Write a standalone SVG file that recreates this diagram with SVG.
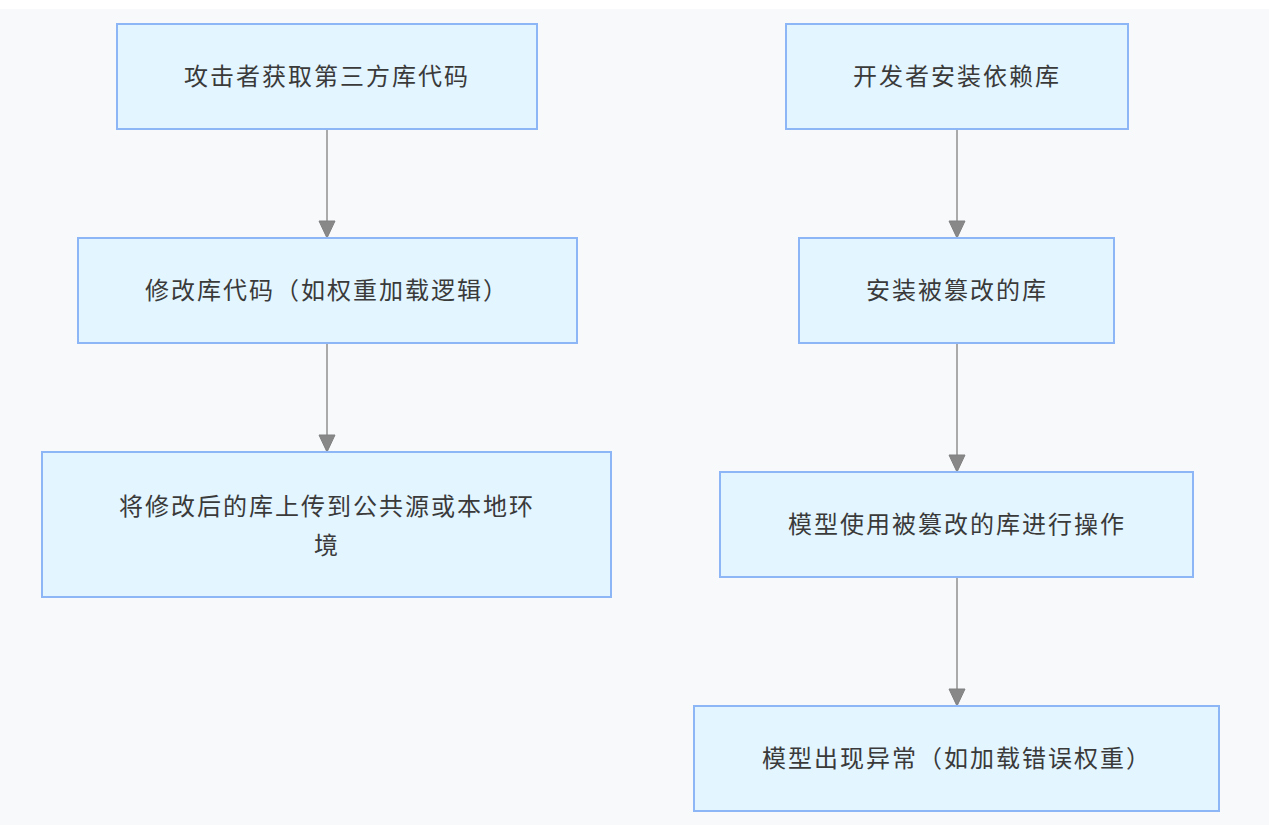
<svg xmlns="http://www.w3.org/2000/svg" width="1269" height="825" viewBox="0 0 1269 825">
<defs>
<style>
.node rect{fill:#e3f5ff;stroke:#8db6f7;stroke-width:2}
.node text{font-family:"Noto Sans CJK SC","Noto Sans",sans-serif;font-size:24px;letter-spacing:2px;fill:#3a3a3a;text-anchor:middle}
.edge{stroke:#aaa;stroke-width:2;fill:none}
.head{fill:#888;stroke:#808080;stroke-width:1}
</style>
</defs>
<rect x="0" y="0" width="1269" height="825" fill="#fff"/>
<rect x="0" y="9" width="1269" height="816" fill="#f8f9fb"/>
<g id="connectors">
<line class="edge" x1="327" y1="129" x2="327" y2="222"/>
<path class="head" d="M319,221 L335,221 L327,238 z"/>
<line class="edge" x1="327" y1="343" x2="327" y2="436"/>
<path class="head" d="M319,435 L335,435 L327,452 z"/>
<line class="edge" x1="957" y1="129" x2="957" y2="222"/>
<path class="head" d="M949,221 L965,221 L957,238 z"/>
<line class="edge" x1="957" y1="343" x2="957" y2="456"/>
<path class="head" d="M949,455 L965,455 L957,472 z"/>
<line class="edge" x1="957" y1="577" x2="957" y2="690"/>
<path class="head" d="M949,689 L965,689 L957,706 z"/>
</g>
<g id="a1" class="node"><rect x="117" y="24" width="420" height="105"/><text x="327" y="85">攻击者获取第三方库代码</text></g>
<g id="a2" class="node"><rect x="78" y="238" width="499" height="105"/><text x="327" y="299">修改库代码（如权重加载逻辑）</text></g>
<g id="a3" class="node"><rect x="42" y="452" width="569" height="145"/><text x="327" y="515">将修改后的库上传到公共源或本地环</text><text x="327" y="554">境</text></g>
<g id="b1" class="node"><rect x="786" y="24" width="342" height="105"/><text x="957" y="85">开发者安装依赖库</text></g>
<g id="b2" class="node"><rect x="799" y="238" width="315" height="105"/><text x="957" y="299">安装被篡改的库</text></g>
<g id="b3" class="node"><rect x="720" y="472" width="473" height="105"/><text x="957" y="533">模型使用被篡改的库进行操作</text></g>
<g id="b4" class="node"><rect x="694" y="706" width="525" height="105"/><text x="957" y="767">模型出现异常（如加载错误权重）</text></g>
</svg>
